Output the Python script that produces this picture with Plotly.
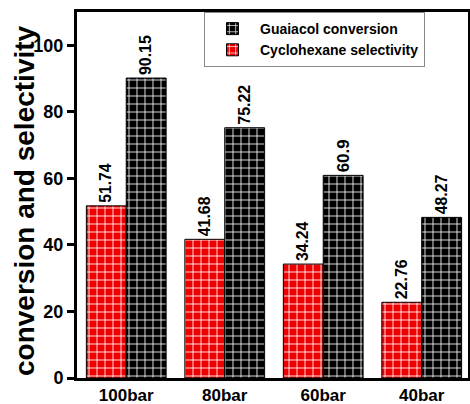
import plotly.graph_objects as go

categories = ["100bar", "80bar", "60bar", "40bar"]
selectivity = [51.74, 41.68, 34.24, 22.76]
conversion = [90.15, 75.22, 60.9, 48.27]
sel_labels = ["51.74", "41.68", "34.24", "22.76"]
conv_labels = ["90.15", "75.22", "60.9", "48.27"]
y_ticks = [0, 20, 40, 60, 80, 100]

W, H = 470, 404
ml, mr, mt, mb = 77, 2, 12, 26
PW = W - ml - mr
PH = H - mt - mb

fig = go.Figure()
fig.add_trace(go.Bar(
    x=categories, y=selectivity, name="Cyclohexane selectivity",
    text=sel_labels, textposition="outside", textangle=-90,
    textfont=dict(family="Arial, Liberation Sans", size=17, color="black", weight="bold"),
    marker=dict(color="#ff0000", line=dict(color="black", width=1),
                pattern=dict(shape="+", fgcolor="white", bgcolor="#ee0000", size=8, solidity=0.2, fillmode="replace")),
    cliponaxis=False,
))
fig.add_trace(go.Bar(
    x=categories, y=conversion, name="Guaiacol conversion",
    text=conv_labels, textposition="outside", textangle=-90,
    textfont=dict(family="Arial, Liberation Sans", size=17, color="black", weight="bold"),
    marker=dict(color="black", line=dict(color="black", width=1),
                pattern=dict(shape="+", fgcolor="white", bgcolor="black", size=8, solidity=0.2, fillmode="replace")),
    cliponaxis=False,
))

fig.update_layout(
    width=W, height=H,
    margin=dict(l=ml, r=mr, t=mt, b=mb, autoexpand=False),
    paper_bgcolor="white", plot_bgcolor="white",
    barmode="group", bargap=0.19, bargroupgap=0,
    font=dict(family="Arial, Liberation Sans", color="black"),
    showlegend=True,
    legend=dict(
        x=(204 - ml) / PW, y=1, xanchor="left", yanchor="top", traceorder="reversed",
        bgcolor="white", bordercolor="#888888", borderwidth=1,
        font=dict(size=14, weight="bold"),
        tracegroupgap=0, itemwidth=45,
    ),
    annotations=[dict(
        text="conversion and selectivity", textangle=-90,
        xref="paper", yref="paper", x=-(ml - 24) / PW, y=(378 - 201) / PH,
        xanchor="center", yanchor="middle", showarrow=False,
        font=dict(size=28, weight="bold", color="black"),
    )],
)
fig.update_xaxes(
    range=[-0.5, 3.47], showline=True, linecolor="black", linewidth=3, mirror=True,
    ticks="", tickfont=dict(size=17, weight="bold"), automargin=False,
)
fig.update_yaxes(
    range=[0, 110], tickvals=y_ticks, showline=True, linecolor="black", linewidth=3, mirror=True,
    ticks="outside", ticklen=7, tickwidth=2.5, tickcolor="black",
    showgrid=False, zeroline=False,
    tickfont=dict(size=18, weight="bold"), automargin=False,
)

fig.write_html("out.html", config={"displayModeBar": False},
               post_script="document.body.style.margin='0';")
